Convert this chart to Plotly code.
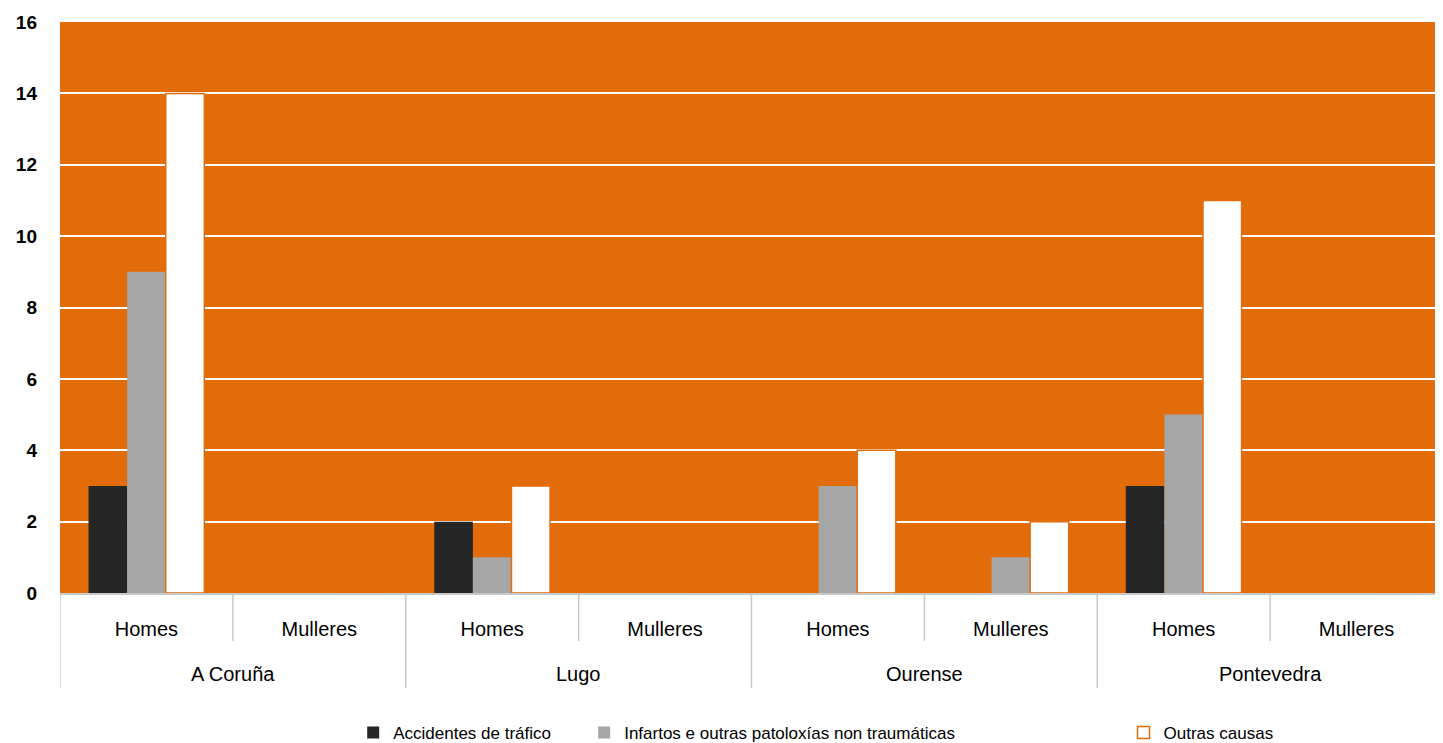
import plotly.graph_objects as go

provinces = ["A Coruña", "A Coruña", "Lugo", "Lugo", "Ourense", "Ourense", "Pontevedra", "Pontevedra"]
sexes = ["Homes", "Mulleres"] * 4
series_names = ["Accidentes de tráfico", "Infartos e outras patoloxías non traumáticas", "Outras causas"]
accidentes = [3, 0, 2, 0, 0, 0, 3, 0]
infartos = [9, 0, 1, 0, 3, 1, 5, 0]
outras = [14, 0, 3, 0, 4, 2, 11, 0]
y_ticks = [0, 2, 4, 6, 8, 10, 12, 14, 16]

orange = "#E36C0A"
divider = "#C8C8C8"
FONT = "Liberation Sans, Arial, sans-serif"
pos = list(range(len(sexes)))

fig = go.Figure()
fig.add_trace(go.Bar(x=pos, y=accidentes, name=series_names[0], legend="legend",
                     marker=dict(color="#262626", line=dict(width=0))))
fig.add_trace(go.Bar(x=pos, y=infartos, name=series_names[1], legend="legend2",
                     marker=dict(color="#A6A6A6", line=dict(width=0))))
fig.add_trace(go.Bar(x=pos, y=outras, name=series_names[2], legend="legend3",
                     marker=dict(color="#FFFFFF", line=dict(color=orange, width=1.5))))

# category boundary lines (inner level short, outer level long)
shapes = []
n = len(sexes)
for i in range(n + 1):
    outer = (i == 0) or (i == n) or (provinces[i] != provinces[i - 1])
    shapes.append(dict(type="line", xref="x", yref="paper", x0=i - 0.5, x1=i - 0.5,
                       y0=0, y1=(-0.166 if outer else -0.084),
                       line=dict(color=divider, width=1.5)))

# province labels
annotations = []
seen = []
for p in provinces:
    if p not in seen:
        seen.append(p)
for p in seen:
    idx = [i for i, q in enumerate(provinces) if q == p]
    annotations.append(dict(x=sum(idx) / len(idx), y=-0.141, xref="x", yref="paper",
                            text=p, showarrow=False, yanchor="middle",
                            font=dict(size=20, family=FONT, color="#000000")))

leg_common = dict(orientation="h", y=-0.245, yanchor="middle", xanchor="left",
                  font=dict(size=17, color="#000000", family=FONT), bgcolor="rgba(0,0,0,0)")

fig.update_layout(
    width=1435, height=735,
    barmode="group", bargap=0.33, bargroupgap=0,
    plot_bgcolor=orange, paper_bgcolor="white",
    margin=dict(l=52, r=0, t=14, b=150, autoexpand=False),
    font=dict(family=FONT, size=20, color="#000000"),
    legend=dict(x=0.212, **leg_common),
    legend2=dict(x=0.379, **leg_common),
    legend3=dict(x=0.769, **leg_common),
    shapes=shapes, annotations=annotations,
    showlegend=True,
)
fig.update_yaxes(range=[0, 16], tickvals=y_ticks, showgrid=True, gridcolor="white", gridwidth=1.5,
                 zeroline=False, showline=False, ticks="", automargin=False,
                 tickfont=dict(size=19, family=FONT, weight="bold"),
                 ticklabelstandoff=22)
fig.update_xaxes(range=[-0.5, n - 0.5], tickvals=pos, ticktext=sexes, showline=True,
                 linecolor=divider, linewidth=1.5, ticks="", showgrid=False, zeroline=False,
                 automargin=False, tickfont=dict(size=20, family=FONT), ticklabelstandoff=17)

fig.write_html("out.html")
